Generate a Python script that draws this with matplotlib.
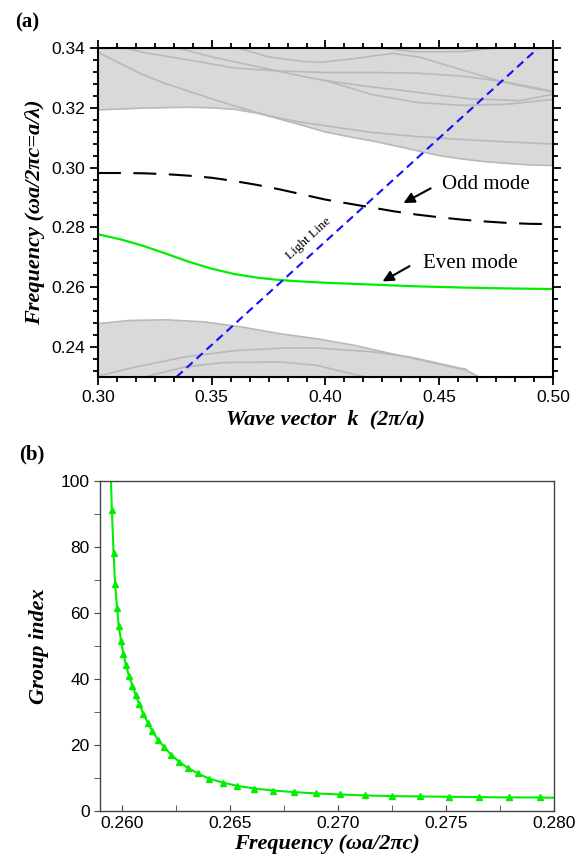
import numpy as np
import matplotlib
matplotlib.use("Agg")
import matplotlib.pyplot as plt
from matplotlib.ticker import MultipleLocator, AutoMinorLocator, FormatStrFormatter

plt.rcParams['font.family'] = ['Liberation Sans', 'DejaVu Sans']
SERIF = ['Liberation Serif', 'DejaVu Serif']

# ---- panel (a): band diagram ----
# upper band lower edge
up_edge_k = [0.30, 0.32, 0.34, 0.35, 0.36, 0.37, 0.38, 0.39, 0.40, 0.41, 0.42,
             0.43, 0.44, 0.45, 0.46, 0.47, 0.48, 0.49, 0.50]
up_edge_f = [0.3193, 0.3199, 0.3202, 0.3200, 0.3195, 0.3182, 0.3162, 0.3141, 0.3119, 0.3104, 0.3090,
             0.3074, 0.3057, 0.3040, 0.3029, 0.3020, 0.3014, 0.3009, 0.3007]

# lower band upper edge
lo_edge_k = [0.30, 0.314, 0.3304, 0.3468, 0.3632, 0.3796, 0.396, 0.4125, 0.4289, 0.4453, 0.4617, 0.4675]
lo_edge_f = [0.2478, 0.2489, 0.2491, 0.2484, 0.2467, 0.2445, 0.2428, 0.2406, 0.2378, 0.2351, 0.2323, 0.2300]

# grey bands inside the continuum
upper_lines = [
    ([0.30, 0.31, 0.32, 0.33, 0.34, 0.35, 0.36, 0.37, 0.38, 0.39, 0.40, 0.42, 0.44, 0.46, 0.48, 0.50],
     [0.3386, 0.3347, 0.3310, 0.3280, 0.3255, 0.3230, 0.3206, 0.3184, 0.3165, 0.3151, 0.3140,
      0.3118, 0.3104, 0.3094, 0.3086, 0.3079]),
    ([0.312, 0.32, 0.34, 0.36, 0.38, 0.40, 0.42, 0.44, 0.46, 0.48, 0.50],
     [0.3400, 0.3385, 0.3360, 0.3333, 0.3323, 0.3318, 0.3318, 0.3316, 0.3306, 0.3285, 0.3255]),
    ([0.335, 0.35, 0.37, 0.39, 0.40, 0.42, 0.434, 0.45, 0.4635, 0.4855, 0.50],
     [0.3400, 0.3370, 0.3338, 0.3305, 0.3291, 0.3270, 0.3258, 0.3242, 0.3230, 0.3224, 0.3245]),
    ([0.3615, 0.375, 0.39, 0.3976, 0.41, 0.4297, 0.4415, 0.4635, 0.478, 0.50],
     [0.3400, 0.3370, 0.3355, 0.3352, 0.3362, 0.3382, 0.3369, 0.3319, 0.3286, 0.3252]),
    ([0.40, 0.42, 0.44, 0.46, 0.48, 0.50],
     [0.3291, 0.3245, 0.3218, 0.3208, 0.3212, 0.3228]),
    ([0.425, 0.44, 0.46, 0.475],
     [0.3400, 0.3387, 0.3388, 0.3400]),
]
lower_lines = [
    ([0.30, 0.3163, 0.3382, 0.3602, 0.3822, 0.396, 0.4207, 0.437, 0.4535, 0.462],
     [0.2303, 0.2333, 0.2367, 0.2388, 0.2397, 0.2397, 0.2384, 0.2367, 0.2339, 0.2325]),
    ([0.3205, 0.3386, 0.355, 0.3796, 0.396, 0.4174],
     [0.2300, 0.2334, 0.2348, 0.2350, 0.2339, 0.2300]),
]

odd_k = [0.30, 0.31, 0.32, 0.33, 0.34, 0.35, 0.36, 0.37, 0.38, 0.39, 0.40, 0.41, 0.42,
         0.43, 0.44, 0.45, 0.46, 0.47, 0.48, 0.49, 0.50]
odd_f = [0.2982, 0.2982, 0.2981, 0.2978, 0.2973, 0.2966, 0.2955, 0.2942, 0.2927, 0.2910, 0.2893,
         0.2880, 0.2867, 0.2854, 0.2843, 0.2834, 0.2826, 0.2820, 0.2815, 0.2812, 0.2811]

even_k = [0.30, 0.31, 0.32, 0.33, 0.34, 0.35, 0.36, 0.37, 0.38, 0.39, 0.40, 0.42, 0.44, 0.46, 0.48, 0.50]
even_f = [0.2777, 0.2760, 0.2738, 0.2712, 0.2685, 0.2662, 0.2644, 0.2632, 0.2624, 0.2619, 0.2615,
          0.2609, 0.2603, 0.2599, 0.2596, 0.2594]

light_k = [0.3345, 0.4935]
light_f = [0.23, 0.34]

# ---- panel (b): group index ----
ng_freq = [0.25952, 0.25960, 0.25967, 0.25976, 0.25984, 0.25995, 0.26005, 0.26017, 0.26031,
           0.26047, 0.26062, 0.26079, 0.26098, 0.26119, 0.26140, 0.26166, 0.26195, 0.26226,
           0.26264, 0.26303, 0.26350, 0.26402, 0.26467, 0.26533, 0.26612, 0.26698, 0.26797,
           0.26900, 0.27009, 0.27126, 0.27250, 0.27379, 0.27514, 0.27652, 0.27793, 0.27936]
ng_vals = [91.3, 78.2, 68.8, 61.6, 56.0, 51.4, 47.7, 44.2, 41.0, 38.0, 35.2, 32.3, 29.4, 26.7,
           24.1, 21.6, 19.3, 17.1, 14.9, 13.1, 11.4, 9.8, 8.6, 7.6, 6.8, 6.2, 5.7, 5.3, 5.0,
           4.7, 4.5, 4.4, 4.3, 4.2, 4.1, 4.1]
# curve ends beyond the first / last markers
ng_line_freq = [0.25948] + ng_freq + [0.280]
ng_line_vals = [100.0] + ng_vals + [4.0]

GREEN = '#00ee00'
FILL = '#d9d9d9'
BANDLINE = '#b9b9b9'

fig = plt.figure(figsize=(5.85, 8.63), dpi=100)

# ================= (a) =================
ax1 = fig.add_axes([0.1675, 0.5632, 0.7778, 0.3812])
ax1.fill_between(up_edge_k, up_edge_f, 0.34, color=FILL, lw=0)
ax1.plot(up_edge_k, up_edge_f, color=BANDLINE, lw=1.2)
ax1.fill_between(lo_edge_k, 0.23, lo_edge_f, color=FILL, lw=0)
ax1.plot(lo_edge_k, lo_edge_f, color=BANDLINE, lw=1.2)
for kk, ff in upper_lines + lower_lines:
    ax1.plot(kk, ff, color=BANDLINE, lw=1.2)

ax1.plot(odd_k, odd_f, color='k', lw=1.5, dashes=(11, 6))
ax1.plot(even_k, even_f, color=GREEN, lw=1.6)
ax1.plot(light_k, light_f, color='#1010ff', lw=1.5, dashes=(4, 2.5))

ax1.text(0.3925, 0.2762, 'Light Line', rotation=42.5, fontsize=9.5, family=SERIF,
         ha='center', va='center', rotation_mode='anchor')

ax1.text(0.4512, 0.2943, 'Odd mode', fontsize=15, family=SERIF, ha='left', va='center')
ax1.annotate('', xy=(0.4332, 0.2877), xytext=(0.4473, 0.2935),
             arrowprops=dict(arrowstyle='-|>', color='k', lw=1.5, mutation_scale=16))
ax1.text(0.4430, 0.2680, 'Even mode', fontsize=15, family=SERIF, ha='left', va='center')
ax1.annotate('', xy=(0.4240, 0.2615), xytext=(0.4380, 0.2675),
             arrowprops=dict(arrowstyle='-|>', color='k', lw=1.5, mutation_scale=16))

ax1.set_xlim(0.30, 0.50)
ax1.set_ylim(0.23, 0.34)
ax1.xaxis.set_major_locator(MultipleLocator(0.05))
ax1.xaxis.set_minor_locator(AutoMinorLocator(6))
ax1.yaxis.set_major_locator(MultipleLocator(0.02))
ax1.yaxis.set_minor_locator(MultipleLocator(0.004))
ax1.xaxis.set_major_formatter(FormatStrFormatter('%.2f'))
ax1.yaxis.set_major_formatter(FormatStrFormatter('%.2f'))
ax1.tick_params(which='both', direction='out', top=True, right=True, width=1.3, labelsize=12.5)
ax1.tick_params(which='major', length=6)
ax1.tick_params(which='minor', length=3.5)
for s in ax1.spines.values():
    s.set_linewidth(1.5)
ax1.set_xlabel('Wave vector  k  (2\u03c0/a)', fontsize=16, family=SERIF,
               fontweight='bold', style='italic', labelpad=3)
ax1.set_ylabel('Frequency (\u03c9a/2\u03c0c=a/\u03bb)', fontsize=16, family=SERIF,
               fontweight='bold', style='italic', labelpad=4)
fig.text(0.026, 0.974, '(a)', fontsize=15, family=SERIF, fontweight='bold', va='center')

# ================= (b) =================
ax2 = fig.add_axes([0.1709, 0.0603, 0.776, 0.3824])
ax2.plot(ng_line_freq, ng_line_vals, color=GREEN, lw=1.5)
ax2.plot(ng_freq, ng_vals, ls='none', marker='^', color=GREEN, ms=4.5)

ax2.set_xlim(0.25897, 0.280)
ax2.set_ylim(0, 100)
ax2.xaxis.set_major_locator(MultipleLocator(0.005))
ax2.xaxis.set_minor_locator(AutoMinorLocator(2))
ax2.yaxis.set_major_locator(MultipleLocator(20))
ax2.yaxis.set_minor_locator(AutoMinorLocator(2))
ax2.xaxis.set_major_formatter(FormatStrFormatter('%.3f'))
ax2.tick_params(axis='x', which='both', direction='in', labelsize=12.5, color='#444444')
ax2.tick_params(axis='y', which='both', direction='out', labelsize=12.5, color='#444444')
ax2.tick_params(which='major', length=4)
ax2.tick_params(which='minor', length=4)
for s in ax2.spines.values():
    s.set_linewidth(1.0)
    s.set_color('#444444')
ax2.set_xlabel('Frequency (\u03c9a/2\u03c0c)', fontsize=16, family=SERIF,
               fontweight='bold', style='italic', labelpad=2)
ax2.set_ylabel('Group index', fontsize=16, family=SERIF,
               fontweight='bold', style='italic', labelpad=8)
fig.text(0.032, 0.473, '(b)', fontsize=15, family=SERIF, fontweight='bold', va='center')

fig.savefig('out.png', dpi=100)
